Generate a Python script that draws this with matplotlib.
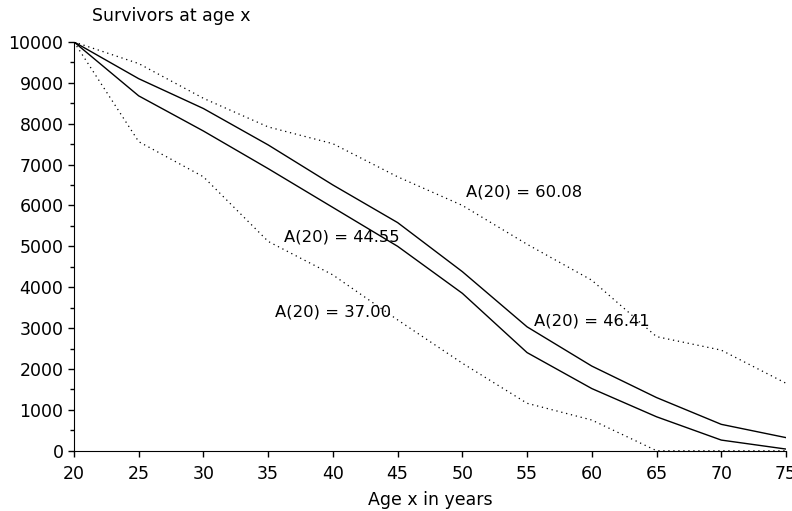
import matplotlib.pyplot as plt

plt.rcParams['font.family'] = ['DejaVu Sans']

# Ages and survivors at each age
ages = [20, 25, 30, 35, 40, 45, 50, 55, 60, 65, 70, 75]
upper_dotted = [10000, 9470, 8620, 7920, 7510, 6700, 6000, 5050, 4170, 2790, 2460, 1650]
upper_solid = [10000, 9100, 8370, 7480, 6500, 5580, 4380, 3030, 2070, 1300, 645, 320]
lower_solid = [10000, 8680, 7820, 6900, 5950, 5000, 3850, 2400, 1520, 830, 260, 40]
lower_dotted = [10000, 7560, 6700, 5120, 4300, 3200, 2140, 1160, 750, 0, 0, 0]

labels = ['A(20) = 60.08', 'A(20) = 46.41', 'A(20) = 44.55', 'A(20) = 37.00']
label_x = [50.3, 55.5, 36.2, 35.5]
label_y = [6330, 3170, 5230, 3390]

fig = plt.figure(figsize=(7.92, 5.11), dpi=100)
ax = fig.add_axes([0.0934, 0.118, 0.899, 0.800])

# dotted outer curves, solid inner curves
ax.plot(ages, upper_dotted, color='black', linewidth=0.9, linestyle=(0, (1, 3)))
ax.plot(ages, lower_dotted, color='black', linewidth=0.9, linestyle=(0, (1, 3)))
ax.plot(ages, upper_solid, color='black', linewidth=1.0)
ax.plot(ages, lower_solid, color='black', linewidth=1.0)

for lab, lx, ly in zip(labels, label_x, label_y):
    ax.text(lx, ly, lab, fontsize=11.8, ha='left', va='center')

ax.set_xlim(20, 75)
ax.set_ylim(0, 10000)
ax.set_xticks(range(20, 76, 5))
ax.set_yticks(range(0, 10001, 1000))
ax.set_yticks(range(500, 10000, 1000), minor=True)
ax.tick_params(axis='both', labelsize=12.5, direction='out', length=4, width=1)
ax.tick_params(axis='x', pad=6)
ax.tick_params(axis='y', which='minor', length=3, width=1)
ax.spines['top'].set_visible(False)
ax.spines['right'].set_visible(False)

ax.set_xlabel('Age x in years', fontsize=12.5, labelpad=6)
fig.text(0.116, 0.968, 'Survivors at age x', fontsize=12.5, ha='left', va='center')

fig.savefig('out.png', dpi=100)
